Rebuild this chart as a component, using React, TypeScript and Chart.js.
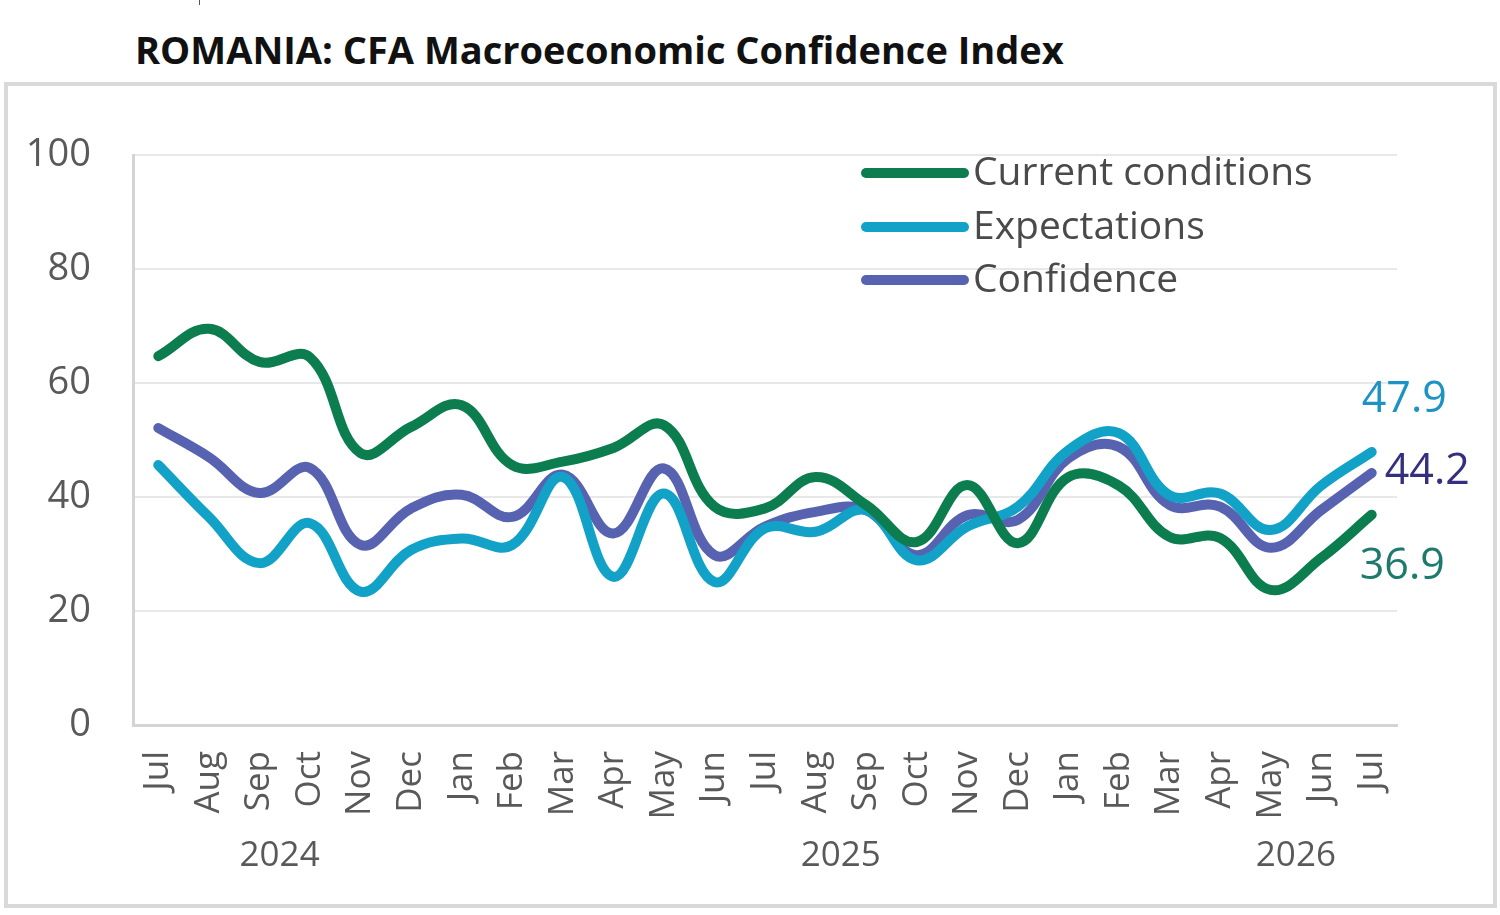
import React, { useEffect, useRef } from 'react';
import { Chart, registerables } from 'chart.js';

Chart.register(...registerables);

const titleText = 'ROMANIA: CFA Macroeconomic Confidence Index';

const months = ['Jul', 'Aug', 'Sep', 'Oct', 'Nov', 'Dec', 'Jan', 'Feb', 'Mar', 'Apr', 'May', 'Jun', 'Jul', 'Aug', 'Sep', 'Oct', 'Nov', 'Dec', 'Jan', 'Feb', 'Mar', 'Apr', 'May', 'Jun', 'Jul'];

const currentConditions = [64.7, 69.5, 63.7, 64.5, 47.7, 52.3, 56.1, 45.6, 46.2, 48.6, 52.6, 38.3, 38.0, 43.5, 38.6, 32.1, 42.1, 31.9, 43.5, 42.0, 33.0, 32.8, 23.7, 29.3, 36.9];
const expectations = [45.6, 36.5, 28.4, 35.4, 23.4, 30.7, 32.7, 31.6, 43.5, 26.0, 40.6, 25.1, 34.5, 33.9, 37.7, 28.9, 34.8, 38.3, 48.2, 51.2, 40.3, 40.6, 34.2, 42.0, 47.9];
const confidence = [52.1, 47.0, 40.7, 45.1, 31.6, 38.0, 40.4, 36.5, 43.9, 33.6, 45.0, 29.8, 34.8, 37.4, 37.7, 29.8, 36.8, 36.0, 46.8, 48.8, 38.6, 38.3, 31.1, 37.7, 44.2];

const seriesNames = ['Current conditions', 'Expectations', 'Confidence'];
const yearLabels = ['2024', '2025', '2026'];
const yearAnchors = [2.4, 13.5, 22.5]; // category index where each year label is centred
const yTicks = [0, 20, 40, 60, 80, 100];

const lineColors = ['#0b7d4e', '#12a2c8', '#5763b0'];
const endLabelColors = ['#1d7a6c', '#1c93c4', '#34307f'];

const FONT = '"Open Sans", "Noto Sans", sans-serif';
const TEXT_GRAY = '#595959';

const overlayPlugin = {
  id: 'overlay',
  afterDatasetsDraw(chart: any) {
    const ctx = chart.ctx;
    const xs = chart.scales.x;
    const ys = chart.scales.y;
    ctx.save();

    // legend
    const legendRows = [173, 227, 280];
    seriesNames.forEach((name, i) => {
      const y = legendRows[i];
      ctx.strokeStyle = lineColors[i];
      ctx.lineWidth = 10;
      ctx.lineCap = 'round';
      ctx.beginPath();
      ctx.moveTo(866, y);
      ctx.lineTo(964, y);
      ctx.stroke();
      ctx.fillStyle = '#4a4a4a';
      ctx.font = `39px ${FONT}`;
      ctx.textAlign = 'left';
      ctx.textBaseline = 'middle';
      ctx.fillText(name, 973, y + 1);
    });

    // end value labels
    const series = [currentConditions, expectations, confidence];
    const offsets = [
      [-12, 52],
      [-10, -52],
      [13, -1],
    ];
    series.forEach((arr, i) => {
      const last = arr.length - 1;
      const px = xs.getPixelForValue(last);
      const py = ys.getPixelForValue(arr[last]);
      ctx.fillStyle = endLabelColors[i];
      ctx.font = `43px ${FONT}`;
      ctx.textAlign = 'left';
      ctx.textBaseline = 'middle';
      ctx.fillText(arr[last].toFixed(1), px + offsets[i][0], py + offsets[i][1]);
    });

    // year labels
    ctx.fillStyle = TEXT_GRAY;
    ctx.font = `35px ${FONT}`;
    ctx.textAlign = 'center';
    ctx.textBaseline = 'middle';
    yearLabels.forEach((yl, i) => {
      const px = xs.getPixelForValue(yearAnchors[i]);
      ctx.fillText(yl, px, 856);
    });

    ctx.restore();
  },
};

export default function App() {
  const canvasRef = useRef<HTMLCanvasElement | null>(null);

  useEffect(() => {
    if (!canvasRef.current) return;
    const chart = new Chart(canvasRef.current, {
      type: 'line',
      data: {
        labels: months,
        datasets: [currentConditions, expectations, confidence].map((d, i) => ({
          label: seriesNames[i],
          data: d,
          borderColor: lineColors[i],
          backgroundColor: lineColors[i],
          borderWidth: 10,
          pointRadius: 0,
          tension: 0.4,
          borderCapStyle: 'round',
          borderJoinStyle: 'round',
          fill: false,
        })),
      },
      options: {
        responsive: false,
        animation: false,
        layout: { padding: { left: 0, top: 155, right: 103, bottom: 0 } },
        plugins: {
          legend: { display: false },
          title: { display: false },
          tooltip: { enabled: false },
        },
        scales: {
          x: {
            type: 'category',
            offset: true,
            grid: { display: false, drawTicks: false },
            border: { display: true, color: '#d4d4d4', width: 3 },
            ticks: {
              autoSkip: false,
              minRotation: 90,
              maxRotation: 90,
              padding: 26,
              color: TEXT_GRAY,
              font: { family: FONT, size: 35 },
            },
            afterFit(scale: any) {
              scale.height = 190;
            },
          },
          y: {
            min: 0,
            max: 100,
            afterBuildTicks(scale: any) {
              scale.ticks = yTicks.map((v) => ({ value: v }));
            },
            grid: { color: '#e8e8e8', lineWidth: 2, drawTicks: false },
            border: { display: true, color: '#d4d4d4', width: 3 },
            ticks: {
              padding: 42,
              color: TEXT_GRAY,
              font: { family: FONT, size: 38 },
            },
            afterFit(scale: any) {
              scale.width = 133;
            },
          },
        },
      },
      plugins: [overlayPlugin],
    } as any);
    return () => chart.destroy();
  }, []);

  return (
    <div style={{ position: 'absolute', left: 0, top: 0, width: 1500, height: 915, background: '#fff', overflow: 'hidden' }}>
      <div style={{ position: 'absolute', left: 199, top: 0, width: 1, height: 5, background: '#555' }} />
      <div
        style={{
          position: 'absolute',
          left: 135,
          top: 30,
          fontFamily: FONT,
          fontWeight: 700,
          fontSize: 38,
          lineHeight: '38px',
          color: '#111',
          whiteSpace: 'nowrap',
        }}
      >
        {titleText}
      </div>
      <div
        style={{
          position: 'absolute',
          left: 4,
          top: 82,
          width: 1493,
          height: 826,
          border: '4px solid #d9d9d9',
          boxSizing: 'border-box',
        }}
      />
      <canvas
        ref={canvasRef}
        width={1500}
        height={915}
        style={{ position: 'absolute', left: 0, top: 0, width: 1500, height: 915 }}
      />
    </div>
  );
}
